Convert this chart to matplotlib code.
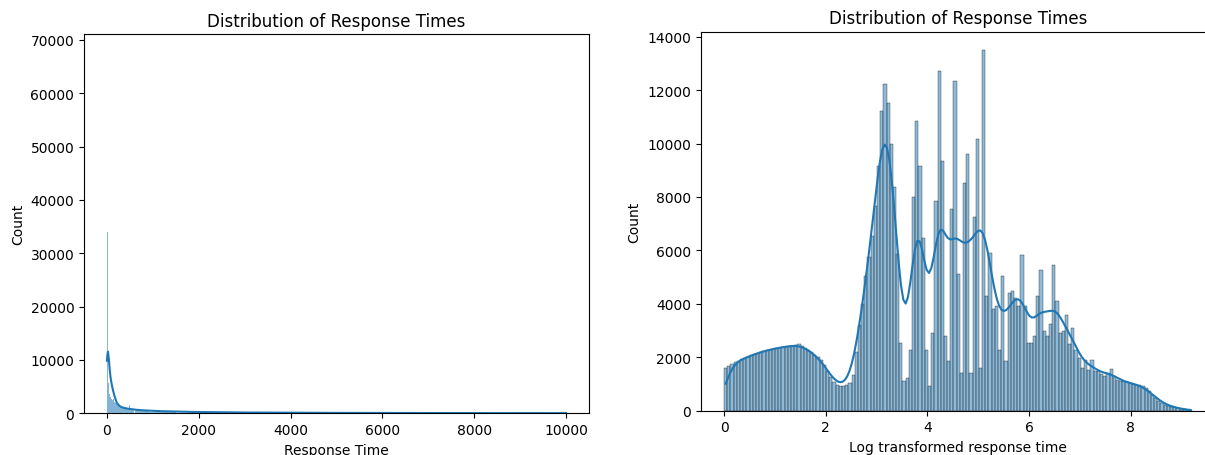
import numpy as np
import pandas as pd
import matplotlib
matplotlib.use('Agg')
import matplotlib.pyplot as plt
import seaborn as sns

# ---- left panel: raw response times (bin edges + counts)
left_edges = np.concatenate([np.arange(0, 100, 5), np.arange(100, 1000, 20),
                             [1000, 1500, 2000, 3000, 4000, 6000, 8000, 10000]])
left_counts = [67700, 39500, 34000, 9000, 6200, 5200, 5600, 4300, 4800, 3900,
               4300, 3600, 3800, 3200, 3500, 3000, 2900, 3100, 2600, 2700,
               2600, 2400, 2700, 2100, 1900, 1800, 1600, 1500, 1400, 1350,
               1200, 1150, 1100, 1000, 950, 900, 870, 820, 800, 1500,
               900, 700, 680, 650, 900, 620, 580, 560, 540, 520,
               500, 480, 460, 440, 700, 420, 400, 390, 370, 360,
               340, 330, 320, 310, 300,
               200, 120, 70, 45, 25, 15, 10]

# kde curve of the left panel
left_kde_x = [0, 10, 22, 40, 59, 80, 109, 135, 162, 190, 218, 270, 328, 420,
              511, 650, 800, 1170, 1900, 3000, 5000, 7500, 10000]
left_kde_y = [9860, 11000, 11550, 10300, 8300, 6600, 5180, 4200, 3300, 2550,
              1930, 1400, 1120, 920, 800, 650, 550, 400, 250, 150, 80, 45, 30]

# ---- right panel: log transformed response times, 147 equal bins
n_bins = 147
log_max = np.log(10000)
right_counts = [1600, 1680, 1750, 1810, 1870, 1920, 1970, 2020, 2070, 2110,
                2150, 2190, 2230, 2260, 2290, 2320, 2340, 2360, 2380, 2400,
                2410, 2440, 2470, 2480, 2420, 2340, 2270, 2180, 2080, 2020,
                1900, 1720, 1500, 1280, 1080, 960, 910, 920, 960, 1050,
                1350, 2200, 3220, 3980, 5040, 5740, 6540, 7660, 9160, 11230,
                12220, 11510, 9980, 8360, 5850, 2550, 1100, 1240, 2290, 7990,
                10840, 9160, 6450, 2290, 910, 2920, 7850, 12720, 9350, 2790,
                1850, 7540, 12350, 5100, 1420, 8540, 9600, 1420, 7240, 10160,
                1610, 13510, 4290, 5920, 3790, 3910, 2290, 5040, 1850, 4420,
                4480, 4230, 3910, 5830, 3910, 2540, 2540, 2790, 4290, 5270,
                2980, 2790, 3230, 5440, 4100, 2920, 2980, 3600, 2480, 3100,
                2290, 1980, 1610, 1910, 1540, 1910, 1480, 1480, 1390, 1290,
                1420, 1570, 1290, 1160, 1100, 1100, 1060, 1040, 1000, 980,
                950, 920, 850, 720, 600, 470, 380, 300, 230, 180,
                150, 120, 95, 70, 50, 35, 15]

right_edges = np.linspace(0, log_max, n_bins + 1)
left_df = pd.DataFrame({'t': 0.5 * (left_edges[:-1] + left_edges[1:]),
                        'n': left_counts})
right_df = pd.DataFrame({'t': 0.5 * (right_edges[:-1] + right_edges[1:]),
                         'n': right_counts})

# bandwidth as seaborn would pick it on the raw sample (Scott on n, not on bins)
w = right_df['n'].to_numpy(dtype=float)
neff = w.sum() ** 2 / (w ** 2).sum()
bw_adj = (neff / w.sum()) ** 0.2

fig = plt.figure(figsize=(12.05, 4.56), dpi=100)
ax1 = fig.add_axes([84 / 1205, (456 - 414.3) / 456, 505 / 1205, 379.3 / 456])
# right panel runs past the edge of the picture in the original
ax2 = fig.add_axes([700.7 / 1205, (456 - 411.7) / 456, 515 / 1205, 379 / 456])

# bars here are sub-pixel wide, so they show up pale and without outlines
sns.histplot(data=left_df, x='t', weights='n', bins=list(left_edges),
             linewidth=0, alpha=0.55, ax=ax1)
ax1.plot(left_kde_x, left_kde_y, color='C0', lw=1.5)
ax1.set_title('Distribution of Response Times')
ax1.set_xlabel('Response Time')
ax1.set_ylabel('Count')

sns.histplot(data=right_df, x='t', weights='n', bins=list(right_edges), kde=True,
             kde_kws={'bw_adjust': bw_adj, 'cut': 0}, ax=ax2)
ax2.set_xlim(right=9.67)
ax2.set_title('Distribution of Response Times')
ax2.set_xlabel('Log transformed response time')
ax2.set_ylabel('Count')

fig.savefig('out.png', dpi=100)
